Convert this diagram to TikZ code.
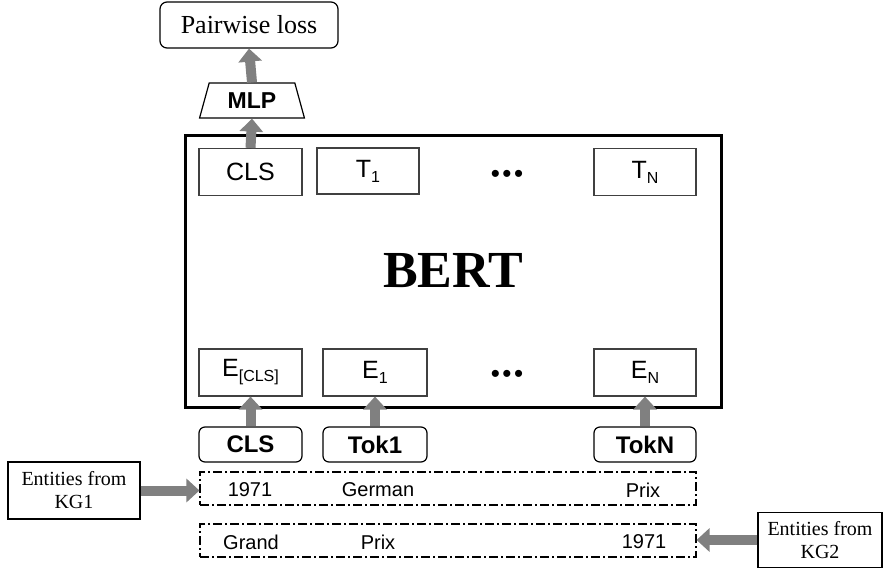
\documentclass[tikz,border=0pt]{standalone}
\usepackage{fontspec}
\setmainfont{Liberation Serif}
\setsansfont{Liberation Sans}
\usetikzlibrary{arrows.meta,shapes.geometric}
\definecolor{arrowgray}{HTML}{808080}
\definecolor{boxgray}{HTML}{404040}
\newcommand\subx[1]{\raisebox{-5pt}{\fontsize{16}{16}\selectfont #1}}
\tikzset{
  garrow/.style={draw=arrowgray, line width=10pt, -{Triangle[width=23pt,length=13pt]}},
  tbox/.style={draw=boxgray, line width=1.1pt, minimum width=103pt, minimum height=47pt, inner sep=0pt,
    font=\sffamily\fontsize{25}{25}\selectfont},
  tokbox/.style={draw=black, line width=1.2pt, rounded corners=6pt, minimum width=103pt, minimum height=35pt, inner sep=0pt,
    font=\sffamily\bfseries\fontsize{24}{24}\selectfont},
  rowbox/.style={draw=black, line width=1.1pt, dash pattern=on 9pt off 3pt on 2pt off 3pt, minimum width=496pt, minimum height=33pt, inner sep=0pt},
  rowtxt/.style={font=\sffamily\fontsize{20}{20}\selectfont, inner sep=0pt},
  kgbox/.style={draw=black, line width=1.2pt, align=center, inner sep=0pt, font=\fontsize{20}{23}\selectfont},
  dotsty/.style={font=\sffamily\fontsize{26}{26}\selectfont, inner sep=0pt}
}
\begin{document}
\begin{tikzpicture}[x=1pt,y=-1pt]
\useasboundingbox (0,0) rectangle (884,568);
% BERT box
\node[draw=black, line width=3pt, minimum width=536pt, minimum height=272pt, inner sep=0pt,
  font=\bfseries\fontsize{52}{52}\selectfont] (bert) at (453,271) {BERT};
% top outputs
\node[tbox] (clsT) at (250.5,172) {CLS};
\node[tbox, minimum width=102pt, minimum height=46pt] (t1) at (368,171) {T\subx{1}};
\node[dotsty] (dotsT) at (507,176) {\textbullet\hspace{2.5pt}\textbullet\hspace{2.5pt}\textbullet};
\node[tbox, minimum width=102pt] (tn) at (645,172) {T\subx{N}};
% bottom embeddings
\node[tbox] (ecls) at (250.5,372.5) {E\subx{[CLS]}};
\node[tbox, minimum width=104pt] (e1) at (375,372.5) {E\subx{1}};
\node[dotsty] (dotsB) at (507,376) {\textbullet\hspace{2.5pt}\textbullet\hspace{2.5pt}\textbullet};
\node[tbox, minimum width=102pt] (en) at (645,372.5) {E\subx{N}};
% tokens
\node[tokbox] (tokcls) at (250.5,444.5) {CLS};
\node[tokbox, minimum width=104pt] (tok1) at (375,444.5) {Tok1};
\node[tokbox, minimum width=102pt] (tokn) at (645,444.5) {TokN};
% MLP and loss
\node[draw=black, line width=1.2pt, trapezium, trapezium stretches=true, trapezium angle=71,
  minimum width=105pt, minimum height=35pt, inner sep=0pt,
  font=\sffamily\bfseries\fontsize{23}{23}\selectfont] (mlp) at (252,100.5) {MLP};
\node[draw=black, line width=1.2pt, rounded corners=7pt, minimum width=178pt, minimum height=46pt, inner sep=0pt,
  font=\fontsize{26}{26}\selectfont] (loss) at (249,25) {Pairwise loss};
% entity rows
\node[rowbox] (row1) at (448,488.5) {};
\node[rowbox] (row2) at (448,540.5) {};
\node[rowtxt] (r1a) at (250,490) {1971};
\node[rowtxt] (r1b) at (378,490) {German};
\node[rowtxt] (r1c) at (643,490) {Prix};
\node[rowtxt] (r2a) at (251,542) {Grand};
\node[rowtxt] (r2b) at (378,542) {Prix};
\node[rowtxt] (r2c) at (644,542) {1971};
% KG boxes
\node[kgbox, minimum width=132pt, minimum height=57pt] (kg1) at (74,490.5) {Entities from\\KG1};
\node[kgbox, minimum width=124pt, minimum height=55pt] (kg2) at (820,540) {Entities from\\KG2};
% arrows
\draw[garrow] (mlp.north) -- (loss.south);
\draw[garrow] (clsT.north) -- (mlp.south);
\draw[garrow] (tokcls.north) -- (ecls.south);
\draw[garrow] (tok1.north) -- (e1.south);
\draw[garrow] (tokn.north) -- (en.south);
\draw[garrow] (kg1.east) -- (kg1.east -| row1.west);
\draw[garrow] (kg2.west) -- (kg2.west -| row2.east);
\end{tikzpicture}
\end{document}
